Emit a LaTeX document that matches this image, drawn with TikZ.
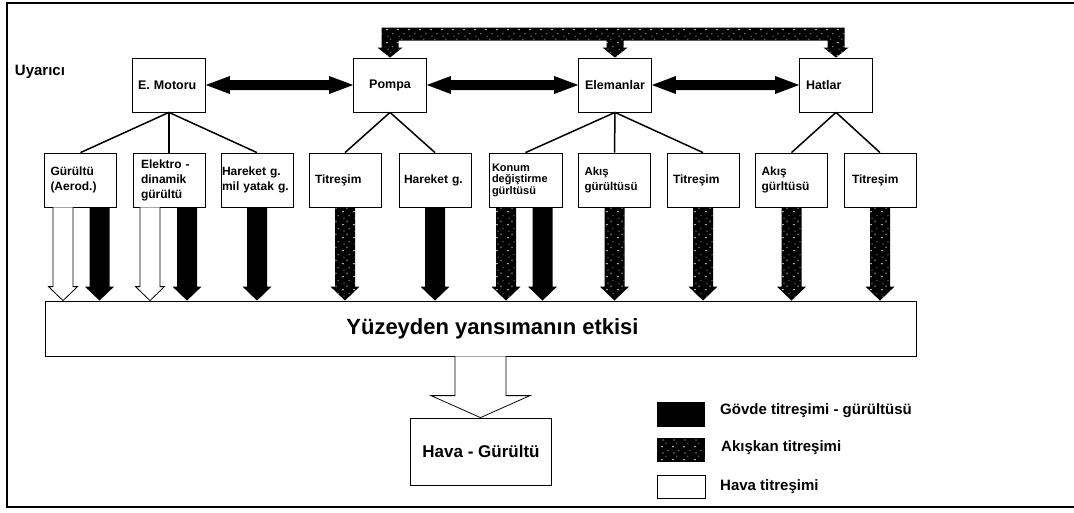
\documentclass[tikz,border=0pt]{standalone}
\usepackage{fontspec}
\setmainfont{Liberation Sans}
\usetikzlibrary{calc,patterns.meta}

\tikzdeclarepattern{
  name=specks,
  type=uncolored,
  bottom left={(0pt,0pt)},
  top right={(11pt,13pt)},
  tile size={(11pt,13pt)},
  code={
    \pgfpathrectangle{\pgfpoint{1pt}{1pt}}{\pgfpoint{2pt}{0.7pt}}
    \pgfpathrectangle{\pgfpoint{6pt}{4pt}}{\pgfpoint{0.7pt}{1.6pt}}
    \pgfpathrectangle{\pgfpoint{2.5pt}{8pt}}{\pgfpoint{1.4pt}{0.7pt}}
    \pgfpathrectangle{\pgfpoint{8pt}{10.5pt}}{\pgfpoint{1pt}{0.7pt}}
    \pgfusepath{fill}
  }
}

\tikzset{
  kaynak/.style={draw, line width=0.8pt, minimum width=73pt, minimum height=54pt,
    inner sep=3pt, align=left, font=\fontsize{12.5}{15}\bfseries\selectfont},
  etki/.style={draw, line width=0.8pt, minimum width=72pt, minimum height=54pt,
    inner sep=3pt, text width=60pt, align=left, font=\fontsize{12}{15}\bfseries\selectfont},
  lejant/.style={anchor=west, inner sep=0pt, font=\fontsize{15}{18}\bfseries\selectfont},
  bag/.style={line width=1.5pt},
  govde/.style={fill=black},
  akiskan/.style={preaction={fill=black}, pattern=specks, pattern color=white},
  hava/.style={draw=black, fill=white, line width=0.8pt},
}

% fat double arrow between two boxes
\newcommand{\ciftok}[2]{%
  \fill let \p1=(#1.east), \p2=(#2.west) in
    (\x1,\y1) -- (\x1+24pt,\y1+9pt) -- (\x1+24pt,\y1+5pt) -- (\x2-24pt,\y1+5pt)
    -- (\x2-24pt,\y1+9pt) -- (\x2,\y1) -- (\x2-24pt,\y1-9pt) -- (\x2-24pt,\y1-5pt)
    -- (\x1+24pt,\y1-5pt) -- (\x1+24pt,\y1-9pt) -- cycle;}

% vertical flow arrow from a box down to the wall
\newcommand{\akim}[3]{%
  \path[#1] let \p1=([xshift=#3]#2.south), \p2=(wall.north) in
    (\x1-10pt,\y1) -- (\x1-10pt,\y2+14pt) -- (\x1-14.5pt,\y2+14pt) -- (\x1,\y2)
    -- (\x1+14.5pt,\y2+14pt) -- (\x1+10pt,\y2+14pt) -- (\x1+10pt,\y1);}

\begin{document}
\begin{tikzpicture}[x=1pt, y=-1pt]
\useasboundingbox (0,0) rectangle (1074,512);
\draw[line width=2pt] (1080,3) -- (7,3) -- (7,507) -- (1080,507);

\node[font=\fontsize{15}{18}\bfseries\selectfont] (uya) at (40,72) {Uyarıcı};

% sources
\node[kaynak, text width=62pt] (mot) at (169,85) {E. Motoru};
\node[kaynak] (pom) at (390,85) {Pompa};
\node[kaynak] (ele) at (615,85) {Elemanlar};
\node[kaynak, text width=60pt] (hat) at (836,85) {Hatlar};

% effects
\node[etki] (gur) at (80.5,180) {Gürültü\\(Aerod.)};
\node[etki, text width=56pt] (eld) at (169,180) {Elektro -\\dinamik\\gürültü};
\node[etki, inner sep=1pt, text width=70pt] (hmy) at (257,180) {Hareket g.\\mil yatak g.};
\node[etki] (tp) at (345,180) {Titreşim};
\node[etki, text width=62pt] (hg) at (435,180) {Hareket g.};
\node[etki, minimum width=73pt, text width=67pt, font=\fontsize{11}{11.5}\bfseries\selectfont] (kdg) at (525.5,180) {Konum\\değiştirme\\gürltüsü};
\node[etki, font=\fontsize{11.5}{15}\bfseries\selectfont] (ae) at (614.5,180) {Akış\\gürültüsü};
\node[etki] (te) at (703,180) {Titreşim};
\node[etki] (ah) at (791.5,180) {Akış\\gürltüsü};
\node[etki, text width=56pt] (th) at (880,180) {Titreşim};

\node[draw, line width=0.8pt, minimum width=871pt, minimum height=55pt,
  label={[xshift=12pt, font=\fontsize{22}{26}\bfseries\selectfont]center:Yüzeyden yansımanın etkisi}]
  (wall) at (480.5,328.5) {};
\node[draw, line width=0.8pt, minimum width=141pt, minimum height=67pt,
  font=\fontsize{17}{20}\bfseries\selectfont] (hv) at (481,451.5) {Hava - Gürültü};

% legend
\node[govde, minimum width=48pt, minimum height=25pt, inner sep=0pt] (lg1) at (681,414.5) {};
\node[akiskan, minimum width=48pt, minimum height=24pt, inner sep=0pt] (lg2) at (681,450) {};
\node[hava, minimum width=48pt, minimum height=23pt, inner sep=0pt] (lg3) at (681,486.5) {};
\node[lejant] (lt1) at (720,411) {Gövde titreşimi - gürültüsü};
\node[lejant] (lt2) at (721,448) {Akışkan titreşimi};
\node[lejant] (lt3) at (720,487) {Hava titreşimi};

% tree
\draw[bag] (mot.south) -- (gur.north);
\draw[bag] (mot.south) -- (eld.north);
\draw[bag] (mot.south) -- (hmy.north);
\draw[bag] (pom.south) -- (tp.north);
\draw[bag] (pom.south) -- (hg.north);
\draw[bag] (ele.south) -- (kdg.north);
\draw[bag] (ele.south) -- (ae.north);
\draw[bag] (ele.south) -- (te.north);
\draw[bag] (hat.south) -- (ah.north);
\draw[bag] (hat.south) -- (th.north);

\ciftok{mot}{pom}
\ciftok{pom}{ele}
\ciftok{ele}{hat}

% feedback bar
\path[akiskan] let \p1=(pom.north), \p2=(ele.north), \p3=(hat.north) in
  (\x1-8.5pt,\y1+10pt) -- (\x1-8.5pt,\y1+30pt) -- (\x3+8.5pt,\y1+30pt) -- (\x3+8.5pt,\y3+10pt)
  -- (\x3+12.5pt,\y3+10pt) -- (\x3,\y3) -- (\x3-12.5pt,\y3+10pt) -- (\x3-8.5pt,\y3+10pt)
  -- (\x3-8.5pt,\y1+17pt) -- (\x2+8.5pt,\y1+17pt) -- (\x2+8.5pt,\y2+10pt)
  -- (\x2+12.5pt,\y2+10pt) -- (\x2,\y2) -- (\x2-12.5pt,\y2+10pt) -- (\x2-8.5pt,\y2+10pt)
  -- (\x2-8.5pt,\y1+17pt) -- (\x1+8.5pt,\y1+17pt) -- (\x1+8.5pt,\y1+10pt)
  -- (\x1+12.5pt,\y1+10pt) -- (\x1,\y1) -- (\x1-12.5pt,\y1+10pt) -- cycle;

% flows
\akim{hava}{gur}{-17.5pt}
\akim{govde}{gur}{19pt}
\akim{hava}{eld}{-19pt}
\akim{govde}{eld}{18pt}
\akim{govde}{hmy}{0pt}
\akim{akiskan}{tp}{0pt}
\akim{govde}{hg}{0pt}
\akim{akiskan}{kdg}{-19.5pt}
\akim{govde}{kdg}{17pt}
\akim{akiskan}{ae}{0pt}
\akim{akiskan}{te}{0pt}
\akim{akiskan}{ah}{0pt}
\akim{akiskan}{th}{0pt}

\path[hava] let \p1=(wall.south), \p2=(hv.north) in
  (\x1-25.5pt,\y1) -- (\x1-25.5pt,\y2+22pt) -- (\x1-49.5pt,\y2+22pt) -- (\x1,\y2)
  -- (\x1+49.5pt,\y2+22pt) -- (\x1+25.5pt,\y2+22pt) -- (\x1+25.5pt,\y1);
\end{tikzpicture}
\end{document}
